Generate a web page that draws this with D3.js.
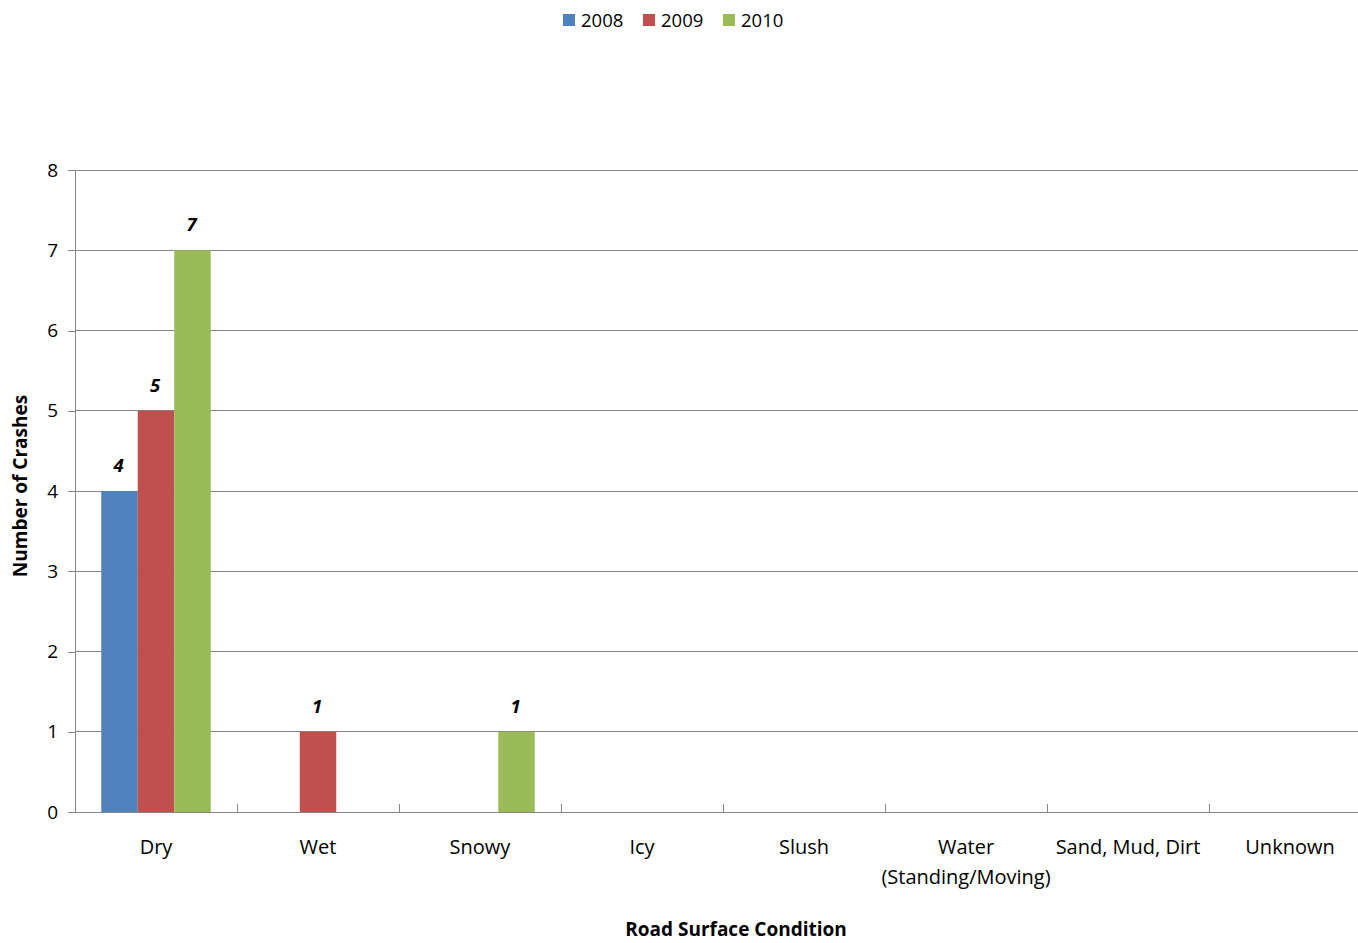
<!DOCTYPE html>
<html><head><meta charset="utf-8">
<script src="https://cdn.jsdelivr.net/npm/d3@7/dist/d3.min.js"></script>
<style>
body{margin:0;background:#fff;}
svg text{font-family:"Open Sans",Carlito,Calibri,sans-serif;fill:#000;}
</style></head>
<body>
<svg id="c" width="1358" height="943"></svg>
<script>
const categories = ["Dry","Wet","Snowy","Icy","Slush","Water\n(Standing/Moving)","Sand, Mud, Dirt","Unknown"];
const seriesNames = ["2008","2009","2010"];
const colors = ["#4F81BD","#C0504D","#9BBB59"];
const v2008 = [4,0,0,0,0,0,0,0];
const v2009 = [5,1,0,0,0,0,0,0];
const v2010 = [7,0,1,0,0,0,0,0];
const yTicks = [0,1,2,3,4,5,6,7,8];
const seriesValues = [v2008, v2009, v2010];

const svg = d3.select("#c");
const mLeft = 75, mTop = 170, mBottom = 812, mRight = 1371;
const FS = 18.5;
const x = d3.scaleBand().domain(categories).range([mLeft, mRight]).paddingInner(0).paddingOuter(0);
const y = d3.scaleLinear().domain([0,8]).range([mBottom, mTop]);
const inner = d3.scaleBand().domain(seriesNames).range([0, x.bandwidth()]).paddingInner(0).paddingOuter(0.72);

const gridColor = "#868686";
// gridlines
svg.append("g").selectAll("line").data(yTicks.filter(d=>d>0)).join("line")
  .attr("x1", mLeft).attr("x2", mRight).attr("y1", d=>y(d)).attr("y2", d=>y(d))
  .attr("stroke", gridColor).attr("stroke-width",1).attr("shape-rendering","crispEdges");

// y axis
const ya = svg.append("g").attr("transform",`translate(${mLeft},0)`)
  .call(d3.axisLeft(y).tickValues(yTicks).tickSize(7).tickPadding(10).tickFormat(d3.format("d")));
ya.select(".domain").attr("stroke",gridColor).attr("shape-rendering","crispEdges");
ya.selectAll(".tick line").attr("stroke",gridColor).attr("shape-rendering","crispEdges");
ya.selectAll("text").attr("font-size",19).attr("fill","#000").style("font-family","'Open Sans',Carlito,Calibri,sans-serif");

// bars
seriesValues.forEach((vals,si)=>{
  const g = svg.append("g");
  const data = categories.map((c,i)=>({c, v: vals[i]}));
  g.selectAll("rect").data(data.filter(d=>d.v>0)).join("rect")
    .attr("x", d=>x(d.c)+inner(seriesNames[si]))
    .attr("width", inner.bandwidth())
    .attr("y", d=>y(d.v)).attr("height", d=>y(0)-y(d.v))
    .attr("fill", colors[si]);
  g.selectAll("text").data(data.filter(d=>d.v>0)).join("text")
    .attr("x", d=>x(d.c)+inner(seriesNames[si])+inner.bandwidth()/2 - 1)
    .attr("y", d=>y(d.v)-19)
    .attr("text-anchor","middle").attr("font-size",FS).attr("font-weight","bold").attr("font-style","italic")
    .text(d=>d.v);
});

// x axis
const xa = svg.append("g").attr("transform",`translate(0,${mBottom})`);
xa.append("line").attr("x1",mLeft).attr("x2",mRight).attr("y1",0).attr("y2",0)
  .attr("stroke",gridColor).attr("shape-rendering","crispEdges");
xa.selectAll("line.tk").data(categories).join("line").attr("class","tk")
  .attr("x1",d=>x(d)+x.bandwidth()).attr("x2",d=>x(d)+x.bandwidth()).attr("y1",0).attr("y2",-8)
  .attr("stroke",gridColor).attr("shape-rendering","crispEdges");
xa.selectAll("text").data(categories).join("text")
  .attr("text-anchor","middle").attr("font-size",20)
  .each(function(d){
    const lines = d.split("\n");
    d3.select(this).selectAll("tspan").data(lines).join("tspan")
      .attr("x", x(d)+x.bandwidth()/2).attr("y",(l,i)=>42+i*30).text(l=>l);
  });

// axis titles
svg.append("text").attr("x",736).attr("y",936).attr("text-anchor","middle")
  .attr("font-size",19).attr("font-weight","bold").text("Road Surface Condition");
svg.append("text").attr("transform","translate(27,486) rotate(-90)").attr("text-anchor","middle")
  .attr("font-size",19).attr("font-weight","bold").text("Number of Crashes");

// legend
const lg = svg.append("g");
const lx = [563,643,723];
seriesNames.forEach((s,i)=>{
  lg.append("rect").attr("x",lx[i]).attr("y",14).attr("width",12).attr("height",12).attr("fill",colors[i]);
  lg.append("text").attr("x",lx[i]+18).attr("y",27).attr("font-size",FS).text(s);
});
</script>
</body></html>
